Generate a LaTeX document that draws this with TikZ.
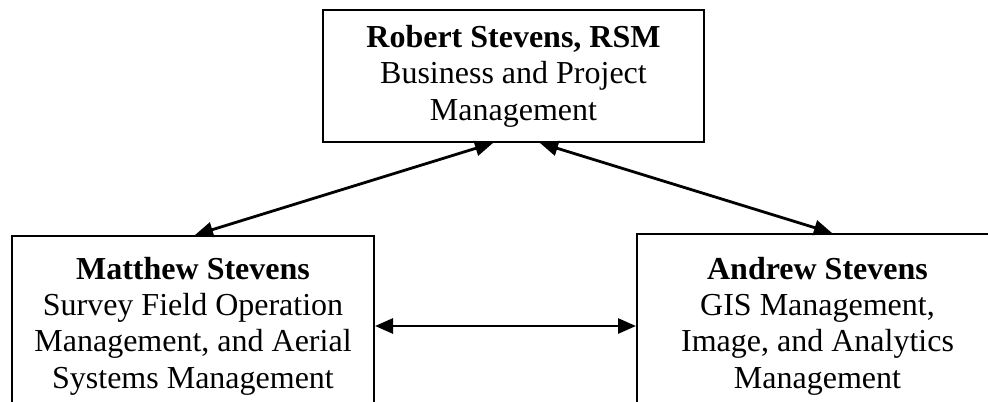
\documentclass[tikz,border=0pt]{standalone}
\usepackage{fontspec}
\setmainfont{Liberation Serif}
\usetikzlibrary{arrows.meta}

\begin{document}
\begin{tikzpicture}[x=0.5pt, y=-0.5pt, >={Triangle[length=9pt,width=7.5pt]},
  person/.style={draw, line width=1pt, align=center, inner sep=0pt, font=\fontsize{16}{18.2}\selectfont},
  link/.style={<->, line width=1.4pt}]
  \useasboundingbox (0,0) rectangle (988,401);
  \clip (0,0) rectangle (988,401);
  % boxes
  \node[person, minimum width=190.5pt, minimum height=66pt] (robert) at (513.5,76)
    {\textbf{Robert Stevens, RSM}\\Business and Project\\Management};
  \node[person, minimum width=181pt, minimum height=90pt] (matthew) at (193,326)
    {\textbf{Matthew Stevens}\\Survey Field Operation\\Management, and Aerial\\Systems Management};
  \node[person, minimum width=180.5pt, minimum height=92pt] (andrew) at (817.5,326)
    {\textbf{Andrew Stevens}\\GIS Management,\\Image, and Analytics\\Management};
  % links
  \draw[link] ([xshift=-10.25pt]robert.south) -- ([xshift=1pt]matthew.north);
  \draw[link] ([xshift=13.25pt]robert.south) -- ([xshift=7.25pt]andrew.north);
  \draw[link] (matthew) -- (andrew);
\end{tikzpicture}
\end{document}
